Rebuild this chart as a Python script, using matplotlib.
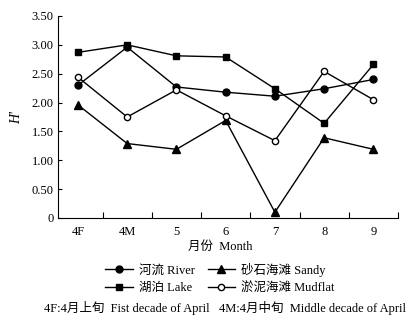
import matplotlib
matplotlib.use("Agg")
import matplotlib.pyplot as plt
from matplotlib.ticker import FixedLocator, NullFormatter

plt.rcParams['font.family'] = ['Liberation Serif', 'Noto Sans CJK SC', 'DejaVu Sans']

months = ["4F", "4M", "5", "6", "7", "8", "9"]
river = [2.30, 2.96, 2.27, 2.18, 2.11, 2.24, 2.40]
lake = [2.87, 3.00, 2.81, 2.79, 2.24, 1.64, 2.66]
sandy = [1.96, 1.29, 1.19, 1.69, 0.10, 1.39, 1.19]
mudflat = [2.44, 1.75, 2.22, 1.77, 1.34, 2.54, 2.05]
yticks = [0, 0.5, 1.0, 1.5, 2.0, 2.5, 3.0, 3.5]
ytick_labels = ["0", "0.50", "1.00", "1.50", "2.00", "2.50", "3.00", "3.50"]

fig = plt.figure(figsize=(4.16, 3.25), dpi=100)
ax = fig.add_axes([58/416, 1-218/325, 340/416, 202/325])

x = list(range(len(months)))
kw = dict(color='black', lw=1.0, markersize=5)
h1, = ax.plot(x, river, marker='o', label='河流 River', **kw)
h2, = ax.plot(x, lake, marker='s', label='湖泊 Lake', **kw)
h3, = ax.plot(x, sandy, marker='^', label='砂石海滩 Sandy', markersize=6, color='black', lw=1.0)
h4, = ax.plot(x, mudflat, marker='o', markerfacecolor='white', label='淤泥海滩 Mudflat',
              color='black', lw=1.0, markersize=4.5)

ax.set_xlim(-0.405, 6.5)
ax.set_ylim(0, 3.5)
ax.spines['top'].set_visible(False)
ax.spines['right'].set_visible(False)

ax.xaxis.set_major_locator(FixedLocator([0.5, 1.5, 2.5, 3.5, 4.5, 5.5, 6.5]))
ax.xaxis.set_major_formatter(NullFormatter())
ax.set_xticks(x, minor=True)
ax.set_xticklabels(months, minor=True)
ax.tick_params(axis='x', which='major', direction='in', length=4, width=0.8)
ax.tick_params(axis='x', which='minor', length=0, pad=6, labelsize=9)
ax.set_yticks(yticks)
ax.set_yticklabels(ytick_labels)
ax.tick_params(axis='y', direction='in', length=3, width=0.8, labelsize=9, pad=3)

ax.set_ylabel("H'", fontstyle='italic', fontsize=10, labelpad=6)
fig.text(220/416, 1-247/325, "月份  Month", ha='center', va='center', fontsize=9)

fig.legend(handles=[h1, h2, h3, h4], ncol=2, loc='center',
           bbox_to_anchor=(0.529, 0.143), frameon=False, fontsize=9,
           handlelength=2.2, columnspacing=1.0, handletextpad=0.5,
           labelspacing=0.45, borderpad=0)

fig.text(0.541, 1-308/325, "4F:4月上旬  Fist decade of April   4M:4月中旬  Middle decade of April",
         ha='center', va='center', fontsize=9)

fig.savefig("out.png", dpi=100)
